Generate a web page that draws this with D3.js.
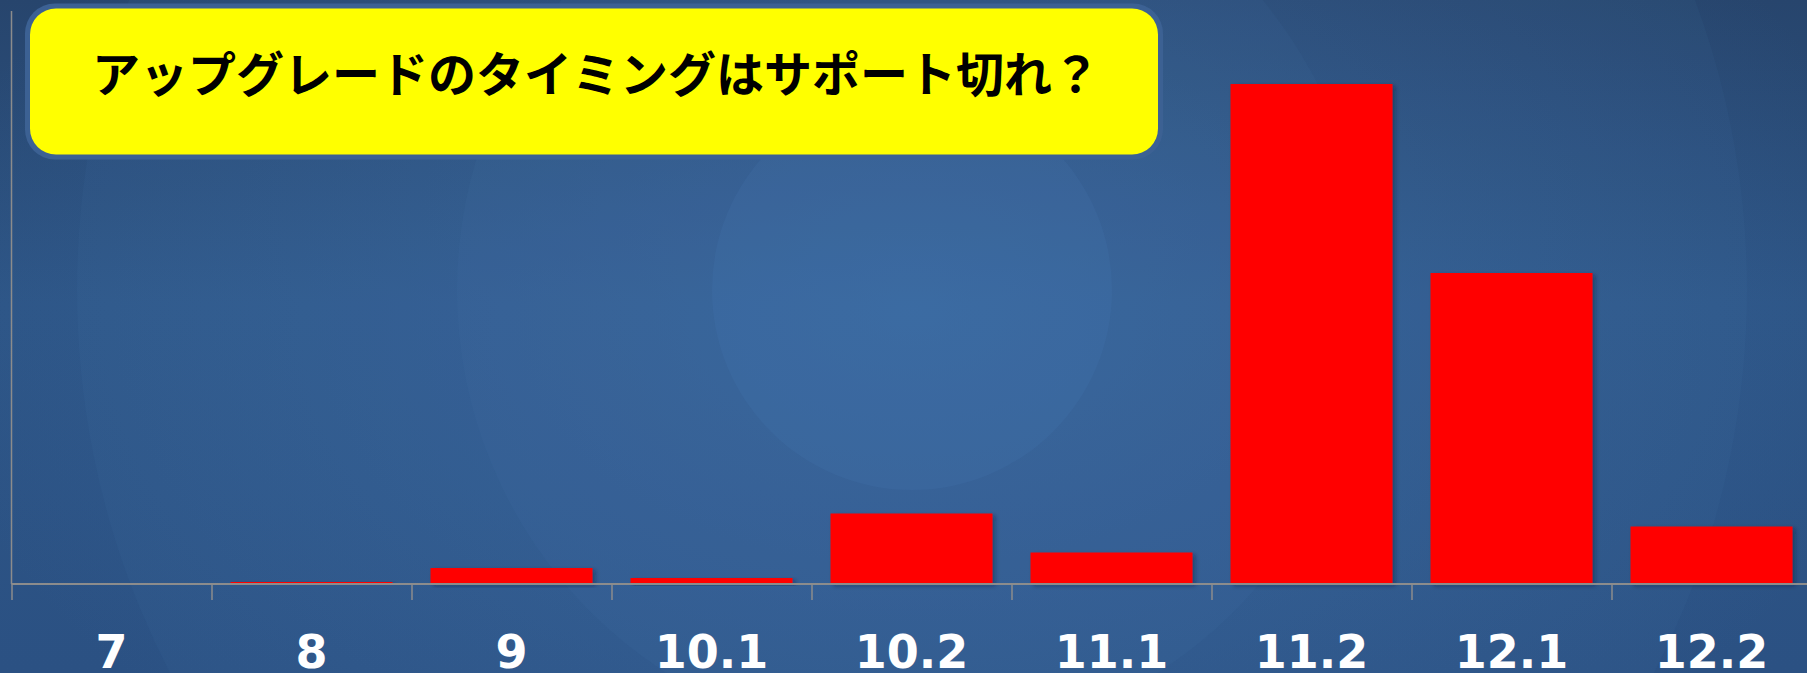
<!DOCTYPE html>
<html>
<head>
<meta charset="utf-8">
<script src="https://cdn.jsdelivr.net/npm/d3@7"></script>
<style>
  html, body { margin: 0; padding: 0; background: #2c5080; overflow: hidden; }
  svg { display: block; }
</style>
</head>
<body>
<div id="chart"></div>
<script>
// chart data
const categories = ["7", "8", "9", "10.1", "10.2", "11.1", "11.2", "12.1", "12.2"];
const shares = [0, 0.2, 1.6, 0.6, 7.05, 3.15, 50.0, 31.1, 5.75];
const yMax = 57.3;
const titleText = "アップグレードのタイミングはサポート切れ？";

document.addEventListener('DOMContentLoaded', function() {
    const width = 1807;
    const height = 673;
    const axisY = 584;
    const axisX = 11.5;

    const svg = d3.select("#chart")
        .append("svg")
        .attr("width", width)
        .attr("height", height);

    const defs = svg.append("defs");

    // background gradients
    const bg = defs.append("linearGradient")
        .attr("id", "bg")
        .attr("x1", 0).attr("y1", 0).attr("x2", 0).attr("y2", 1);
    bg.append("stop").attr("offset", "0%").attr("stop-color", "#27456d");
    bg.append("stop").attr("offset", "45%").attr("stop-color", "#2d5586");
    bg.append("stop").attr("offset", "100%").attr("stop-color", "#2b5183");

    const glow = defs.append("radialGradient")
        .attr("id", "glow")
        .attr("cx", 0.5).attr("cy", 0.5).attr("r", 0.5);
    glow.append("stop").attr("offset", "0%").attr("stop-color", "#4a80c0").attr("stop-opacity", 0.35);
    glow.append("stop").attr("offset", "100%").attr("stop-color", "#4a80c0").attr("stop-opacity", 0);

    const shadow = defs.append("filter")
        .attr("id", "barShadow")
        .attr("x", "-10%").attr("y", "-10%")
        .attr("width", "130%").attr("height", "130%");
    shadow.append("feDropShadow")
        .attr("dx", 3).attr("dy", 2)
        .attr("stdDeviation", 2)
        .attr("flood-color", "#0a1a30")
        .attr("flood-opacity", 0.35);

    svg.append("rect")
        .attr("width", width)
        .attr("height", height)
        .attr("fill", "url(#bg)");

    // faint concentric discs behind the plot
    const cx = 912, cy = 290;
    svg.append("ellipse")
        .attr("cx", cx).attr("cy", cy + 20)
        .attr("rx", 1000).attr("ry", 600)
        .attr("fill", "url(#glow)");
    [835, 455, 200].forEach(function(r, i) {
        svg.append("circle")
            .attr("cx", cx)
            .attr("cy", cy)
            .attr("r", r)
            .attr("fill", "#5b8fd0")
            .attr("opacity", i === 2 ? 0.09 : 0.055);
    });

    // scales
    const x = d3.scaleBand()
        .domain(categories)
        .range([axisX, axisX + 1800])
        .paddingInner(0.19)
        .paddingOuter(0.095);

    const y = d3.scaleLinear()
        .domain([0, yMax])
        .range([axisY, axisY - 573]);

    const edge = d3.scaleLinear()
        .domain([0, categories.length])
        .range([axisX, axisX + 1800]);

    // bars
    svg.append("g")
        .selectAll("rect")
        .data(categories.map((c, i) => ({ cat: c, v: shares[i] })))
        .enter().append("rect")
        .attr("x", d => x(d.cat))
        .attr("y", d => y(d.v))
        .attr("width", x.bandwidth())
        .attr("height", d => axisY - y(d.v))
        .attr("fill", "#ff0000")
        .attr("filter", "url(#barShadow)");

    // y axis line
    svg.append("line")
        .attr("x1", axisX).attr("x2", axisX)
        .attr("y1", y(yMax)).attr("y2", axisY)
        .attr("stroke", "#8c8c8c")
        .attr("stroke-width", 1.5);

    // x axis with ticks at category boundaries
    const xAxis = svg.append("g")
        .attr("transform", `translate(0,${axisY})`)
        .call(d3.axisBottom(edge)
            .tickValues(d3.range(categories.length))
            .tickSize(16)
            .tickFormat(""));
    xAxis.select(".domain").remove();
    xAxis.selectAll(".tick line")
        .attr("stroke", "#8c8c8c")
        .attr("stroke-width", 1.5);
    svg.append("line")
        .attr("x1", axisX).attr("x2", width)
        .attr("y1", axisY).attr("y2", axisY)
        .attr("stroke", "#8c8c8c")
        .attr("stroke-width", 2);

    // category labels
    const labels = svg.append("g")
        .attr("transform", `translate(0,${axisY})`)
        .call(d3.axisBottom(x).tickSize(0).tickPadding(0));
    labels.select(".domain").remove();
    labels.selectAll(".tick text")
        .attr("y", 84)
        .attr("dy", 0)
        .attr("fill", "#ffffff")
        .style("font-family", "'DejaVu Sans', Verdana, sans-serif")
        .style("font-weight", "bold")
        .style("font-size", "46px");

    // title box
    svg.append("rect")
        .attr("x", 25).attr("y", 3.5)
        .attr("width", 1138).attr("height", 156)
        .attr("rx", 30)
        .attr("fill", "#3c6193");
    svg.append("rect")
        .attr("x", 30).attr("y", 8.5)
        .attr("width", 1128).attr("height", 146)
        .attr("rx", 26)
        .attr("fill", "#ffff00");
    svg.append("text")
        .attr("x", 92)
        .attr("y", 92)
        .attr("fill", "#000000")
        .style("font-family", "'Noto Sans CJK JP', sans-serif")
        .style("font-weight", "bold")
        .style("font-size", "48px")
        .text(titleText);
});
</script>
</body>
</html>
